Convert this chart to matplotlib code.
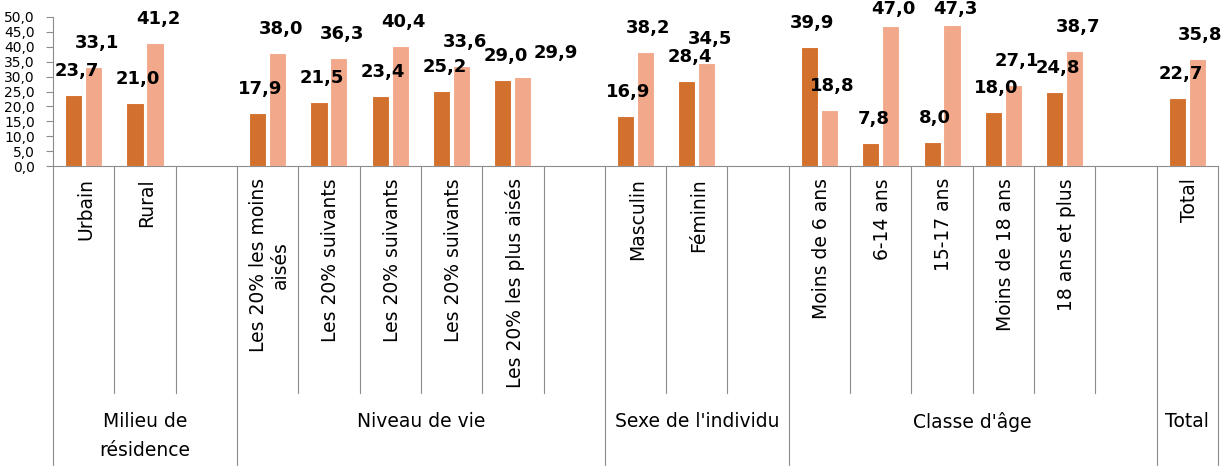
import matplotlib.pyplot as plt
import numpy as np
from matplotlib.transforms import blended_transform_factory

# slots (empty strings are the blank gaps between groups)
categories = ["Urbain", "Rural", "",
              "Les 20% les moins\naisés", "Les 20% suivants", "Les 20% suivants",
              "Les 20% suivants", "Les 20% les plus aisés", "",
              "Masculin", "Féminin", "",
              "Moins de 6 ans", "6-14 ans", "15-17 ans", "Moins de 18 ans", "18 ans et plus", "",
              "Total"]
serie1 = [23.7, 21.0, None, 17.9, 21.5, 23.4, 25.2, 29.0, None, 16.9, 28.4, None,
          39.9, 7.8, 8.0, 18.0, 24.8, None, 22.7]
serie2 = [33.1, 41.2, None, 38.0, 36.3, 40.4, 33.6, 29.9, None, 38.2, 34.5, None,
          18.8, 47.0, 47.3, 27.1, 38.7, None, 35.8]
groups = ["Milieu de\nrésidence", "Niveau de vie", "Sexe de l'individu", "Classe d'âge", "Total"]
group_sizes = [3, 6, 3, 6, 1]

dark = "#D2702E"
light = "#F2A98B"
grey = "#8C8C8C"

W, H = 1224, 466
fig = plt.figure(figsize=(W / 100, H / 100), dpi=100)
ax = fig.add_axes([53 / W, 300 / H, 1165 / W, 149 / H])

n = len(categories)
x = np.arange(n)
bw = 0.28
off = 0.163
for vals, dx, col in [(serie1, -off, dark), (serie2, off, light)]:
    xs = [i + dx for i in x if vals[i] is not None]
    vs = [v for v in vals if v is not None]
    ax.bar(xs, vs, width=bw, color=col, edgecolor="white", linewidth=0.8, zorder=3)

ax.set_xlim(-0.5, n - 0.5)
ax.set_ylim(0, 50)
ax.set_yticks(np.arange(0, 50.1, 5))
ax.set_yticklabels([f"{t:.1f}".replace(".", ",") for t in np.arange(0, 50.1, 5)], fontsize=10)
ax.set_xticks([])
ax.tick_params(axis="y", direction="out", length=5, color=grey, pad=8)
for s in ["top", "right"]:
    ax.spines[s].set_visible(False)
for s in ["left", "bottom"]:
    ax.spines[s].set_color(grey)
    ax.spines[s].set_linewidth(0.8)

# value labels (one label sits off to the right in the original)
ppu = 149 / 50
label_dx = {(1, 7): 30}
for k, (vals, dx) in enumerate([(serie1, -off), (serie2, off)]):
    for i, v in enumerate(vals):
        if v is None:
            continue
        ytxt = min(v + 24 / ppu, (166 - 9) / ppu)
        ax.annotate(f"{v:.1f}".replace(".", ","), (i + dx, ytxt),
                    xytext=(3 + label_dx.get((k, i), 0), 0), textcoords="offset pixels",
                    ha="center", va="center", fontsize=13, fontweight="bold",
                    annotation_clip=False, zorder=5)

# separators and category labels below the axis
tr = blended_transform_factory(ax.transData, fig.transFigure)
y_axis = 300 / H
bounds = np.cumsum([0] + group_sizes) - 0.5
for b in np.arange(n + 1) - 0.5:
    long_line = np.any(np.isclose(bounds, b))
    y_end = 0 if long_line else 73 / H
    ax.plot([b, b], [y_axis, y_end], color=grey, lw=0.8, transform=tr, clip_on=False)

for i, c in enumerate(categories):
    if c:
        ax.text(i + 0.03, (H - 178) / H, c, rotation=90, ha="center", va="top",
                multialignment="center", fontsize=13.5, linespacing=1.25, transform=tr)

for g, a, b in zip(groups, bounds[:-1], bounds[1:]):
    ax.text((a + b) / 2, (H - 412) / H, g, ha="center", va="top", fontsize=13.5,
            linespacing=1.65, transform=tr)

plt.savefig("out.png", dpi=100)
